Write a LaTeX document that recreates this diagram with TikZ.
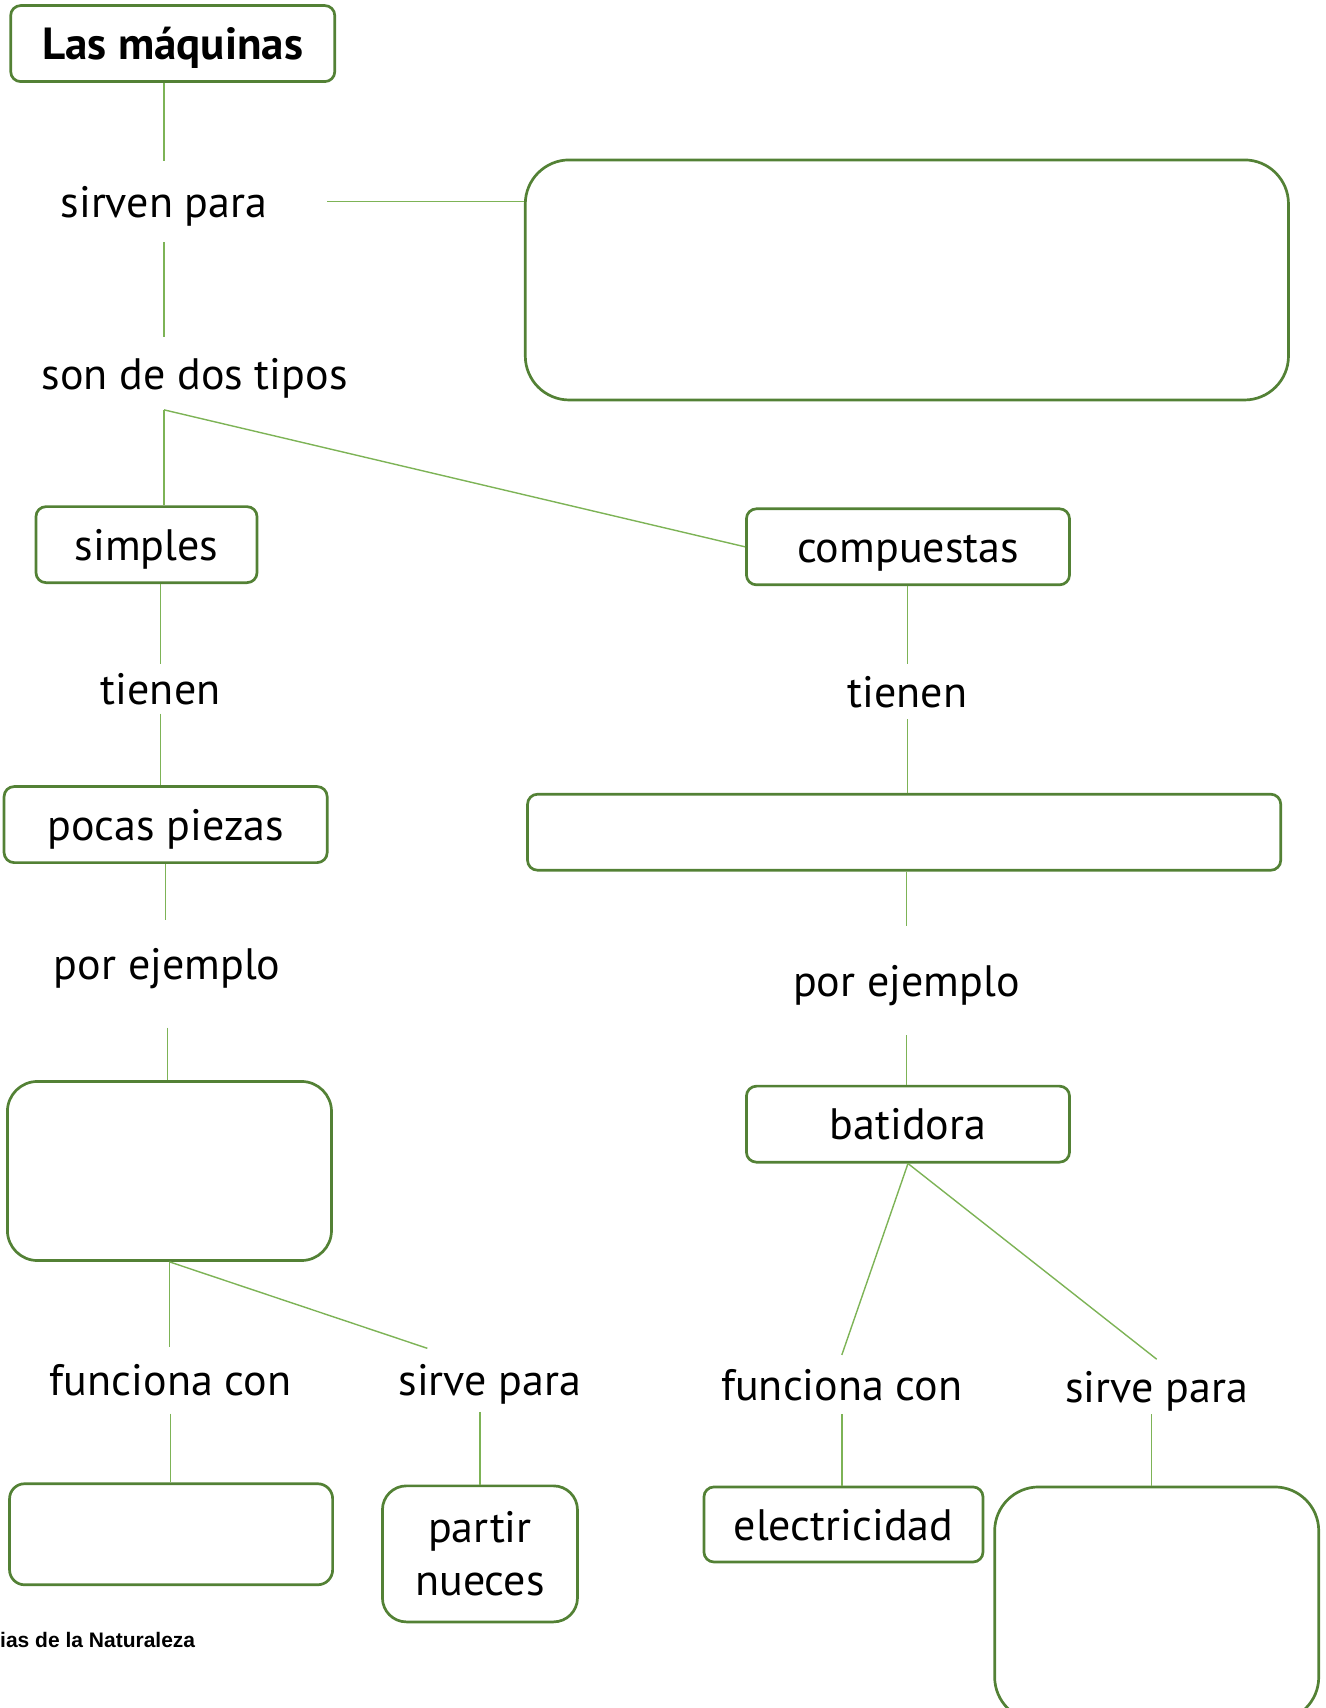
\documentclass[tikz,border=0pt]{standalone}
\usepackage{fontspec}
\setmainfont{PT Sans}
\newfontfamily\footfont{Liberation Sans}
\definecolor{boxgreen}{HTML}{538135}
\definecolor{linegreen}{HTML}{7DB356}
\begin{document}
\begin{tikzpicture}[x=1.093pt,y=-1.089pt,
  shape box/.style={draw=boxgreen,line width=2.7pt,rounded corners=#1,inner sep=0pt,align=center,
    font=\fontsize{44}{53}\selectfont},
  shape box/.default=10pt,
  box/.style={shape box=#1,text height=35pt,text depth=3.5pt},
  box/.default=10pt,
  lbl/.style={inner sep=0pt,font=\fontsize{44}{53}\selectfont,text height=35pt,text depth=3.5pt},
  conn/.style={draw=linegreen,line width=1.4pt}]
\useasboundingbox (0,0) rectangle (1212,1568);
% boxes
\node[box,minimum width=324pt,minimum height=76pt,font=\fontsize{45}{54}\selectfont\bfseries] (lasm) at (158,40) {Las máquinas};
\node[shape box=44pt,minimum width=763pt,minimum height=240pt] (big) at (829.5,257) {};
\node[box,minimum width=221pt,minimum height=76pt] (simp) at (134,500) {simples};
\node[box,minimum width=323pt,minimum height=76pt] (pocas) at (151.5,757) {pocas piezas};
\node[shape box=30pt,minimum width=324pt,minimum height=179pt] (e1) at (155,1075) {};
\node[shape box=15pt,minimum width=323pt,minimum height=101pt] (e2) at (156.5,1408.5) {};
\node[shape box=24pt,minimum width=195pt,minimum height=136pt,font=\fontsize{44}{53}\selectfont] (pn) at (439,1426.5) {partir\\nueces};
\node[box,minimum width=323pt,minimum height=76pt] (comp) at (830.5,502) {compuestas};
\node[shape box,minimum width=753pt,minimum height=76pt] (wide) at (827,764) {};
\node[box,minimum width=323pt,minimum height=76pt] (bat) at (830.5,1032) {batidora};
\node[box,minimum width=279pt,minimum height=75pt] (elec) at (771.5,1399.5) {electricidad};
\node[shape box=44pt,minimum width=324pt,minimum height=234pt] (br) at (1058,1472.5) {};
% labels
\node[lbl,minimum width=326pt,minimum height=80.6pt] (sp) at (150,185) {sirven para};
\node[lbl,minimum height=72pt] (son) at (178,343) {son de dos tipos};
\node[lbl,minimum height=49pt] (t1) at (147,632.5) {tienen};
\node[lbl,minimum height=106.7pt] (pej1) at (153,885) {por ejemplo};
\node[lbl,minimum height=66.4pt] (fc1) at (156,1267) {funciona con};
\node[lbl,minimum height=63.2pt] (sp2) at (448,1267) {sirve para};
\node[lbl,minimum height=54.5pt] (t2) at (830,635) {tienen};
\node[lbl,minimum height=109pt] (pej2) at (829,900) {por ejemplo};
\node[lbl,minimum height=58.8pt] (fc2) at (770,1271) {funciona con};
\node[lbl,minimum height=54.5pt] (sp3) at (1058,1273) {sirve para};
\node[anchor=west,inner sep=0pt,font=\footfont\bfseries\fontsize{21}{24}\selectfont] (foot) at (0,1506) {ias de la Naturaleza};
% connectors
\draw[conn] (lasm.south -| sp.north) -- (sp.north);
\draw[conn] (sp.east) -- (sp.east -| big.west);
\draw[conn] (sp.south) -- (sp.south |- son.north);
\coordinate (sonb) at (son.south -| sp.south);
\draw[conn] (sonb) -- (sonb |- simp.north);
\draw[conn] (sonb) -- (comp.west);
\draw[conn] (t1.north |- simp.south) -- (t1.north);
\draw[conn] (t1.south) -- (t1.south |- pocas.north);
\draw[conn,shorten >=-10pt] (pocas.south) -- (pocas.south |- pej1.north);
\draw[conn,shorten <=10pt] (pej1.south) -- (pej1.south |- e1.north);
\draw[conn] (e1.south) -- (e1.south |- fc1.north);
\draw[conn] (e1.south) -- (sp2.153.6);
\draw[conn] (fc1.south) -- (fc1.south |- e2.north);
\draw[conn] (pn.north |- sp2.south) -- (pn.north);
\draw[conn] (t2.north |- comp.south) -- (t2.north);
\draw[conn] (t2.south) -- (t2.south |- wide.north);
\draw[conn] (pej2.north |- wide.south) -- (pej2.north);
\draw[conn] (pej2.south) -- (pej2.south |- bat.north);
\draw[conn] (bat.south) -- (fc2.north);
\draw[conn] (bat.south) -- (sp3.north);
\draw[conn] (fc2.south) -- (fc2.south |- elec.north);
\coordinate (sp3b) at ([xshift=-5pt]sp3.south);
\draw[conn] (sp3b) -- (sp3b |- br.north);
\end{tikzpicture}
\end{document}
